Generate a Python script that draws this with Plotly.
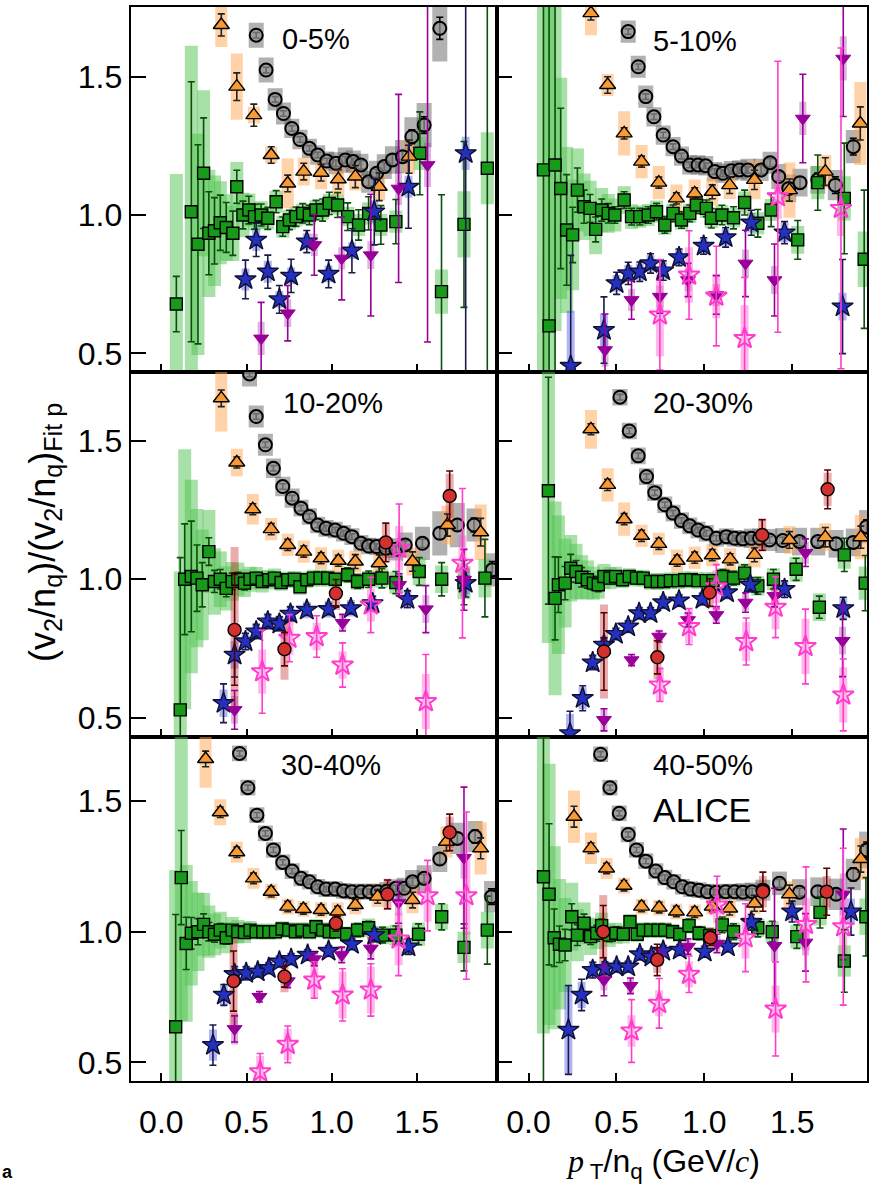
import plotly.graph_objects as go

# ---------------- data: tuples (x, y, stat_err, sys_err) ----------------
PION_0_5 = [(0.557,1.650,0.010,0.045),(0.615,1.524,0.010,0.045),(0.668,1.418,0.010,0.040),(0.717,1.367,0.010,0.040),
            (0.766,1.313,0.010,0.035),(0.814,1.273,0.010,0.035),(0.869,1.241,0.010,0.035),(0.918,1.217,0.010,0.035),
            (0.971,1.195,0.010,0.035),(1.025,1.187,0.012,0.040),(1.080,1.199,0.012,0.045),(1.127,1.193,0.012,0.040),
            (1.172,1.181,0.015,0.040),(1.217,1.120,0.015,0.040),(1.264,1.151,0.015,0.045),(1.309,1.175,0.015,0.045),
            (1.357,1.199,0.020,0.050),(1.416,1.211,0.020,0.060),(1.471,1.283,0.025,0.070),(1.543,1.325,0.030,0.080),
            (1.635,1.675,0.040,0.120)]
KAON_0_5 = [(0.352,1.687,0.040,0.080),(0.443,1.464,0.050,0.120),(0.543,1.361,0.040,0.030),(0.645,1.217,0.030,0.030),
            (0.742,1.114,0.030,0.090),(0.836,1.157,0.030,0.050),(0.938,1.153,0.030,0.060),(1.039,1.129,0.035,0.060),
            (1.139,1.139,0.040,0.050),(1.279,1.102,0.050,0.050),(1.455,1.211,0.060,0.060)]
PROTON_0_5 = [(0.088,0.678,0.100,0.470),(0.176,1.012,0.470,0.600),(0.215,0.894,0.360,0.400),(0.248,1.151,0.200,0.300),
              (0.279,0.934,0.150,0.230),(0.312,0.943,0.120,0.200),(0.346,0.972,0.100,0.150),(0.381,0.955,0.090,0.120),
              (0.420,0.934,0.080,0.100),(0.443,1.102,0.060,0.090),(0.479,1.000,0.050,0.080),(0.514,1.018,0.050,0.060),
              (0.547,0.994,0.045,0.050),(0.586,1.000,0.040,0.050),(0.625,0.988,0.040,0.040),(0.674,1.048,0.040,0.040),
              (0.713,0.958,0.035,0.040),(0.752,0.982,0.035,0.035),(0.791,0.994,0.035,0.035),(0.830,1.006,0.035,0.035),
              (0.869,1.000,0.035,0.035),(0.908,1.018,0.035,0.035),(0.947,1.018,0.040,0.035),(0.986,1.042,0.040,0.035),
              (1.035,1.036,0.045,0.035),(1.094,0.994,0.050,0.035),(1.158,0.964,0.055,0.040),(1.217,1.006,0.060,0.040),
              (1.289,0.964,0.070,0.040),(1.377,0.976,0.080,0.040),(1.518,1.223,0.150,0.060),(1.645,0.723,0.350,0.080),
              (1.777,0.966,0.300,0.120),(1.914,1.169,1.200,0.130)]
LAMBDA_0_5 = [(0.494,0.767,0.070,0.040),(0.557,0.910,0.060,0.040),(0.625,0.795,0.060,0.040),(0.693,0.695,0.050,0.030),
              (0.762,0.780,0.060,0.030),(0.854,0.904,0.040,0.030),(0.982,0.787,0.050,0.030),(1.119,0.871,0.080,0.030),
              (1.250,1.012,0.120,0.040),(1.451,1.102,0.150,0.040),(1.787,1.223,1.300,0.060)]
XI_0_5 = [(0.586,0.554,0.130,0.060),(0.742,0.645,0.100,0.050),(0.898,0.892,0.110,0.040),(1.059,0.843,0.150,0.040),
          (1.230,0.855,0.220,0.050),(1.393,1.096,0.340,0.060),(1.563,1.181,0.640,0.080)]
OMEGA_0_5 = []
PHI_0_5 = []

PION_5_10 = [(0.567,1.663,0.010,0.040),(0.624,1.536,0.010,0.040),(0.667,1.428,0.010,0.040),(0.713,1.355,0.010,0.035),
             (0.766,1.289,0.010,0.035),(0.822,1.247,0.010,0.035),(0.870,1.213,0.010,0.035),(0.917,1.181,0.010,0.035),
             (0.964,1.181,0.010,0.035),(1.008,1.178,0.010,0.035),(1.059,1.157,0.010,0.035),(1.106,1.151,0.012,0.035),
             (1.153,1.160,0.012,0.035),(1.200,1.163,0.012,0.035),(1.248,1.163,0.012,0.040),(1.323,1.163,0.015,0.040),
             (1.374,1.189,0.015,0.040),(1.423,1.139,0.015,0.045),(1.480,1.096,0.020,0.050),(1.544,1.117,0.020,0.050),
             (1.645,1.127,0.025,0.050),(1.745,1.108,0.030,0.055),(1.847,1.247,0.030,0.060)]
KAON_5_10 = [(0.355,1.730,0.025,0.080),(0.450,1.470,0.030,0.040),(0.544,1.295,0.020,0.080),(0.643,1.193,0.020,0.060),
             (0.741,1.117,0.020,0.060),(0.841,1.060,0.020,0.050),(0.945,1.078,0.020,0.050),(1.045,1.084,0.025,0.050),
             (1.144,1.108,0.030,0.050),(1.285,1.127,0.035,0.070),(1.484,1.090,0.040,0.100),(1.688,1.157,0.050,0.060),
             (1.887,1.331,0.060,0.150)]
PROTON_5_10 = [(0.085,1.163,1.300,1.300),(0.117,0.599,1.300,1.300),(0.151,1.181,1.300,0.600),(0.183,1.096,0.290,0.400),
               (0.217,0.946,0.200,0.300),(0.251,0.928,0.100,0.200),(0.278,1.090,0.080,0.150),(0.316,1.030,0.060,0.120),
               (0.350,1.024,0.050,0.100),(0.382,0.948,0.045,0.090),(0.416,1.018,0.040,0.080),(0.454,1.006,0.035,0.070),
               (0.491,1.000,0.030,0.060),(0.544,1.054,0.030,0.050),(0.586,0.994,0.030,0.045),(0.633,0.994,0.030,0.040),
               (0.681,1.000,0.030,0.040),(0.728,1.012,0.030,0.040),(0.775,0.964,0.030,0.035),(0.822,1.006,0.030,0.035),
               (0.870,0.982,0.030,0.035),(0.917,1.006,0.030,0.035),(0.955,1.036,0.030,0.035),(1.011,1.024,0.030,0.035),
               (1.040,0.988,0.035,0.035),(1.100,1.000,0.035,0.035),(1.166,0.990,0.040,0.035),(1.229,1.045,0.045,0.040),
               (1.304,0.970,0.050,0.040),(1.380,1.018,0.060,0.040),(1.531,0.910,0.070,0.050),(1.645,1.117,0.100,0.060),
               (1.796,1.060,0.200,0.080),(1.909,0.840,0.250,0.100)]
LAMBDA_5_10 = [(0.240,0.454,0.400,0.200),(0.429,0.584,0.120,0.060),(0.501,0.753,0.040,0.030),(0.567,0.789,0.040,0.030),
               (0.633,0.795,0.035,0.030),(0.694,0.825,0.035,0.030),(0.766,0.799,0.035,0.030),(0.856,0.847,0.030,0.030),
               (0.996,0.888,0.030,0.030),(1.121,0.919,0.035,0.030),(1.267,0.972,0.045,0.035),(1.456,0.936,0.040,0.035),
               (1.786,0.669,0.170,0.050)]
XI_5_10 = [(0.435,0.512,0.130,0.060),(0.586,0.693,0.070,0.040),(0.747,0.705,0.060,0.040),(0.907,0.765,0.060,0.040),
           (1.068,0.711,0.070,0.040),(1.234,0.825,0.120,0.050),(1.399,0.765,0.130,0.050),(1.560,1.349,0.160,0.060),
           (1.790,1.566,0.210,0.080)]
OMEGA_5_10 = [(0.747,0.639,0.200,0.150),(0.913,0.783,0.160,0.100),(1.068,0.707,0.180,0.080),(1.229,0.554,0.220,0.120),
              (1.418,1.066,0.490,0.080),(1.777,1.024,0.580,0.100)]
PHI_5_10 = []

PION_10_20 = [(0.518,1.742,0.010,0.045),(0.557,1.588,0.010,0.040),(0.611,1.486,0.010,0.040),(0.658,1.401,0.010,0.035),
              (0.713,1.335,0.010,0.035),(0.768,1.293,0.010,0.035),(0.820,1.257,0.010,0.030),(0.869,1.227,0.010,0.030),
              (0.918,1.196,0.010,0.030),(0.967,1.184,0.010,0.030),(1.021,1.178,0.010,0.030),(1.070,1.166,0.010,0.030),
              (1.119,1.154,0.010,0.030),(1.172,1.130,0.010,0.030),(1.217,1.120,0.010,0.030),(1.264,1.118,0.010,0.030),
              (1.318,1.112,0.012,0.035),(1.377,1.108,0.012,0.040),(1.432,1.124,0.015,0.045),(1.533,1.130,0.015,0.060),
              (1.635,1.166,0.020,0.080),(1.738,1.196,0.020,0.080),(1.836,1.196,0.025,0.060),(1.943,1.034,0.030,0.060)]
KAON_10_20 = [(0.352,1.654,0.030,0.120),(0.443,1.422,0.020,0.050),(0.537,1.253,0.020,0.055),(0.645,1.181,0.020,0.040),
              (0.742,1.124,0.020,0.040),(0.836,1.100,0.020,0.040),(0.938,1.076,0.020,0.040),(1.039,1.067,0.020,0.040),
              (1.139,1.064,0.025,0.040),(1.279,1.058,0.030,0.045),(1.475,1.064,0.035,0.050),(1.680,1.196,0.040,0.070),
              (1.875,1.170,0.050,0.100)]
PROTON_10_20 = [(0.111,0.528,0.550,0.500),(0.137,1.000,0.200,0.470),(0.176,1.010,0.200,0.350),(0.209,1.004,0.120,0.250),
                (0.240,0.980,0.080,0.200),(0.279,1.100,0.050,0.150),(0.312,0.992,0.040,0.120),(0.346,1.000,0.035,0.100),
                (0.381,0.967,0.030,0.080),(0.416,0.992,0.030,0.070),(0.449,1.000,0.025,0.060),(0.488,0.986,0.025,0.050),
                (0.521,1.000,0.020,0.045),(0.557,1.004,0.020,0.040),(0.592,0.992,0.020,0.040),(0.631,0.998,0.020,0.035),
                (0.664,1.004,0.020,0.035),(0.703,0.988,0.020,0.030),(0.742,0.998,0.020,0.030),(0.781,1.000,0.020,0.030),
                (0.814,0.973,0.020,0.030),(0.854,0.998,0.020,0.030),(0.893,1.004,0.020,0.030),(0.932,1.004,0.020,0.030),
                (0.977,1.004,0.020,0.030),(1.021,1.000,0.020,0.030),(1.094,1.016,0.025,0.030),(1.152,0.992,0.025,0.030),
                (1.217,1.000,0.030,0.030),(1.295,1.004,0.035,0.035),(1.377,0.988,0.040,0.040),(1.514,1.028,0.050,0.050),
                (1.646,1.000,0.060,0.050),(1.777,0.988,0.080,0.060),(1.900,1.004,0.140,0.070)]
LAMBDA_10_20 = [(0.365,0.552,0.070,0.050),(0.430,0.727,0.080,0.050),(0.494,0.775,0.030,0.030),(0.557,0.811,0.025,0.030),
                (0.625,0.847,0.025,0.030),(0.693,0.839,0.025,0.030),(0.758,0.875,0.025,0.030),(0.854,0.889,0.020,0.030),
                (0.982,0.892,0.020,0.030),(1.113,0.895,0.020,0.030),(1.240,0.913,0.025,0.030),(1.445,0.928,0.030,0.035),
                (1.787,0.986,0.050,0.040)]
XI_10_20 = [(0.430,0.528,0.070,0.050),(1.064,0.843,0.030,0.030),(1.396,0.980,0.040,0.040),(1.553,0.892,0.085,0.050),
            (1.777,0.998,0.110,0.060)]
OMEGA_10_20 = [(0.592,0.666,0.150,0.080),(0.752,0.787,0.085,0.060),(0.912,0.793,0.075,0.050),(1.064,0.690,0.080,0.050),
               (1.230,0.907,0.100,0.060),(1.396,1.112,0.160,0.080),(1.553,0.558,0.170,0.100),(1.768,1.058,0.270,0.100)]
PHI_10_20 = [(0.430,0.817,0.200,0.300),(0.723,0.747,0.060,0.110),(1.025,0.949,0.050,0.060),(1.318,1.133,0.070,0.070),
             (1.693,1.301,0.090,0.080)]

PION_20_30 = [(0.520,1.658,0.010,0.030),(0.573,1.536,0.010,0.030),(0.624,1.446,0.010,0.030),(0.671,1.371,0.010,0.030),
              (0.718,1.313,0.010,0.030),(0.775,1.269,0.010,0.030),(0.822,1.239,0.010,0.030),(0.870,1.212,0.010,0.030),
              (0.917,1.193,0.010,0.030),(0.964,1.178,0.010,0.030),(1.011,1.166,0.010,0.030),(1.068,1.148,0.010,0.030),
              (1.125,1.154,0.010,0.030),(1.172,1.148,0.010,0.030),(1.219,1.146,0.010,0.030),(1.267,1.148,0.010,0.035),
              (1.314,1.148,0.010,0.035),(1.371,1.142,0.012,0.040),(1.446,1.140,0.012,0.045),(1.541,1.136,0.015,0.050),
              (1.645,1.136,0.015,0.050),(1.749,1.128,0.020,0.050),(1.847,1.133,0.020,0.050),(1.923,1.190,0.025,0.060)]
KAON_20_30 = [(0.355,1.542,0.020,0.070),(0.450,1.341,0.020,0.060),(0.544,1.217,0.020,0.060),(0.643,1.157,0.020,0.040),
              (0.741,1.128,0.020,0.040),(0.845,1.067,0.020,0.040),(0.945,1.078,0.020,0.040),(1.045,1.087,0.020,0.040),
              (1.147,1.072,0.020,0.040),(1.285,1.088,0.025,0.045),(1.484,1.142,0.030,0.050),(1.688,1.152,0.035,0.050),
              (1.890,1.152,0.040,0.080)]
PROTON_20_30 = [(0.113,1.320,0.410,0.550),(0.151,0.931,0.150,0.350),(0.170,0.980,0.100,0.250),(0.208,0.986,0.060,0.160),
                (0.240,1.040,0.050,0.120),(0.270,1.028,0.040,0.100),(0.302,1.007,0.035,0.080),(0.335,0.998,0.030,0.070),
                (0.369,0.986,0.025,0.060),(0.397,0.980,0.025,0.050),(0.429,1.010,0.020,0.045),(0.463,1.004,0.020,0.040),
                (0.495,1.010,0.020,0.035),(0.535,0.998,0.020,0.030),(0.573,1.010,0.020,0.030),(0.614,1.004,0.020,0.030),
                (0.652,1.004,0.020,0.030),(0.694,0.992,0.020,0.030),(0.732,0.992,0.020,0.030),(0.769,0.992,0.020,0.030),
                (0.807,0.995,0.020,0.030),(0.851,0.995,0.020,0.030),(0.888,0.998,0.020,0.030),(0.926,0.998,0.020,0.030),
                (0.964,0.995,0.020,0.030),(1.011,0.995,0.020,0.030),(1.049,0.995,0.020,0.030),(1.106,1.010,0.025,0.030),
                (1.166,1.004,0.025,0.030),(1.229,1.022,0.030,0.035),(1.304,0.976,0.030,0.035),(1.393,1.000,0.035,0.040),
                (1.522,1.036,0.040,0.045),(1.654,0.899,0.040,0.050),(1.796,1.088,0.060,0.050),(1.915,0.986,0.100,0.060)]
LAMBDA_20_30 = [(0.236,0.443,0.080,0.070),(0.308,0.570,0.045,0.040),(0.365,0.699,0.025,0.030),(0.429,0.763,0.025,0.030),
                (0.497,0.802,0.020,0.025),(0.567,0.829,0.020,0.025),(0.629,0.877,0.020,0.025),(0.694,0.877,0.020,0.025),
                (0.766,0.916,0.020,0.025),(0.856,0.923,0.020,0.025),(0.989,0.928,0.020,0.025),(1.129,0.952,0.020,0.025),
                (1.261,0.980,0.025,0.030),(1.456,0.964,0.030,0.030),(1.790,0.895,0.040,0.040)]
XI_20_30 = [(0.429,0.492,0.040,0.040),(0.586,0.708,0.020,0.020),(0.743,0.793,0.020,0.025),(0.907,0.853,0.025,0.025),
            (1.068,0.871,0.030,0.030),(1.234,0.916,0.035,0.030),(1.399,0.940,0.040,0.035),(1.575,1.096,0.050,0.040),
            (1.786,0.778,0.130,0.050)]
OMEGA_20_30 = [(0.747,0.618,0.060,0.060),(0.913,0.829,0.065,0.060),(1.068,0.973,0.080,0.060),(1.238,0.775,0.085,0.070),
               (1.405,0.899,0.110,0.080),(1.575,0.757,0.135,0.100),(1.790,0.582,0.130,0.100)]
PHI_20_30 = [(0.429,0.739,0.140,0.170),(0.733,0.718,0.060,0.080),(1.030,0.952,0.050,0.050),(1.329,1.160,0.055,0.060),
             (1.701,1.325,0.070,0.060)]

PION_30_40 = [(0.459,1.682,0.010,0.030),(0.508,1.551,0.010,0.030),(0.561,1.446,0.010,0.030),(0.611,1.376,0.010,0.030),
              (0.658,1.313,0.010,0.030),(0.713,1.265,0.010,0.030),(0.768,1.232,0.010,0.030),(0.820,1.204,0.010,0.030),
              (0.869,1.191,0.010,0.030),(0.918,1.172,0.010,0.030),(0.967,1.163,0.010,0.030),(1.021,1.163,0.010,0.030),
              (1.070,1.156,0.010,0.030),(1.119,1.153,0.010,0.030),(1.172,1.153,0.010,0.030),(1.221,1.153,0.010,0.030),
              (1.270,1.153,0.010,0.030),(1.323,1.155,0.010,0.035),(1.377,1.166,0.012,0.035),(1.426,1.166,0.012,0.040),
              (1.475,1.191,0.015,0.045),(1.543,1.204,0.015,0.050),(1.635,1.278,0.020,0.050),(1.738,1.357,0.020,0.060),
              (1.842,1.364,0.025,0.060),(1.939,1.134,0.030,0.060)]
KAON_30_40 = [(0.260,1.661,0.030,0.110),(0.346,1.457,0.020,0.050),(0.443,1.304,0.020,0.040),(0.541,1.204,0.020,0.040),
              (0.645,1.153,0.020,0.030),(0.742,1.096,0.020,0.030),(0.834,1.087,0.020,0.030),(0.938,1.083,0.020,0.030),
              (1.035,1.077,0.020,0.035),(1.139,1.102,0.020,0.035),(1.270,1.134,0.025,0.040),(1.475,1.121,0.030,0.050),
              (1.674,1.344,0.035,0.060),(1.875,1.319,0.040,0.100)]
PROTON_30_40 = [(0.084,0.636,0.430,0.600),(0.117,1.207,0.180,0.550),(0.146,0.955,0.100,0.300),(0.176,0.994,0.060,0.200),
                (0.215,1.000,0.050,0.150),(0.248,1.028,0.040,0.120),(0.279,1.000,0.035,0.100),(0.312,0.990,0.030,0.080),
                (0.346,1.006,0.025,0.070),(0.381,0.977,0.025,0.060),(0.416,1.006,0.020,0.050),(0.449,1.000,0.020,0.045),
                (0.488,0.997,0.020,0.040),(0.521,1.006,0.020,0.035),(0.557,1.000,0.020,0.030),(0.596,1.000,0.020,0.030),
                (0.631,1.000,0.020,0.030),(0.670,1.000,0.020,0.030),(0.709,1.010,0.020,0.030),(0.748,1.006,0.020,0.030),
                (0.787,1.000,0.020,0.030),(0.826,1.006,0.020,0.030),(0.869,1.000,0.020,0.030),(0.908,1.019,0.020,0.030),
                (0.947,1.006,0.020,0.030),(0.986,1.000,0.020,0.030),(1.025,1.000,0.020,0.030),(1.088,0.990,0.025,0.030),
                (1.152,1.006,0.025,0.030),(1.217,1.015,0.025,0.035),(1.299,0.987,0.030,0.035),(1.377,0.987,0.035,0.040),
                (1.510,0.990,0.040,0.045),(1.646,1.057,0.050,0.050),(1.777,0.940,0.090,0.060),(1.914,1.006,0.130,0.070)]
LAMBDA_30_40 = [(0.303,0.566,0.077,0.060),(0.367,0.758,0.040,0.040),(0.430,0.837,0.030,0.030),(0.498,0.841,0.025,0.030),
                (0.566,0.847,0.020,0.025),(0.631,0.860,0.020,0.025),(0.693,0.885,0.020,0.025),(0.762,0.895,0.020,0.025),
                (0.859,0.911,0.020,0.025),(0.982,0.926,0.020,0.025),(1.119,0.952,0.020,0.025),(1.250,0.987,0.025,0.030),
                (1.451,0.943,0.030,0.030)]
XI_30_40 = [(0.430,0.628,0.050,0.060),(0.576,0.751,0.020,0.020),(0.742,0.811,0.025,0.025),(0.898,0.895,0.025,0.030),
            (1.059,0.911,0.030,0.030),(1.230,0.936,0.040,0.035),(1.393,1.112,0.080,0.050),(1.777,1.283,0.270,0.080)]
OMEGA_30_40 = [(0.580,0.464,0.070,0.060),(0.742,0.569,0.070,0.060),(0.898,0.815,0.070,0.070),(1.064,0.758,0.100,0.090),
               (1.230,0.777,0.100,0.090),(1.393,0.972,0.140,0.100),(1.563,1.138,0.135,0.100),(1.791,1.138,0.320,0.150)]
PHI_30_40 = [(0.424,0.811,0.115,0.170),(0.723,0.828,0.040,0.060),(1.025,1.032,0.030,0.040),(1.328,1.143,0.055,0.060),
             (1.693,1.380,0.070,0.060)]

PION_40_50 = [(0.410,1.679,0.010,0.030),(0.463,1.551,0.010,0.030),(0.516,1.453,0.010,0.030),(0.567,1.372,0.010,0.030),
              (0.614,1.313,0.010,0.030),(0.667,1.270,0.010,0.030),(0.724,1.232,0.010,0.030),(0.775,1.207,0.010,0.030),
              (0.826,1.191,0.010,0.030),(0.875,1.172,0.010,0.030),(0.922,1.163,0.010,0.030),(0.970,1.159,0.010,0.030),
              (1.017,1.153,0.010,0.030),(1.068,1.151,0.010,0.030),(1.121,1.153,0.010,0.030),(1.172,1.153,0.010,0.030),
              (1.219,1.151,0.010,0.035),(1.272,1.153,0.012,0.035),(1.333,1.159,0.012,0.040),(1.427,1.185,0.015,0.045),
              (1.541,1.151,0.015,0.050),(1.645,1.153,0.020,0.055),(1.749,1.143,0.020,0.060),(1.847,1.219,0.025,0.060),
              (1.923,1.313,0.030,0.070)]
KAON_40_50 = [(0.259,1.440,0.040,0.100),(0.355,1.319,0.020,0.060),(0.444,1.242,0.020,0.040),(0.543,1.176,0.020,0.030),
              (0.643,1.096,0.020,0.030),(0.743,1.092,0.020,0.030),(0.841,1.077,0.020,0.030),(0.945,1.074,0.020,0.030),
              (1.045,1.096,0.020,0.030),(1.144,1.089,0.025,0.035),(1.285,1.108,0.030,0.040),(1.484,1.143,0.035,0.050),
              (1.890,1.278,0.050,0.080)]
PROTON_40_50 = [(0.085,1.210,1.300,0.600),(0.117,1.143,0.270,0.500),(0.146,0.977,0.110,0.350),(0.176,0.952,0.070,0.250),
                (0.208,0.949,0.060,0.180),(0.246,1.057,0.050,0.130),(0.278,0.987,0.040,0.100),(0.316,1.032,0.035,0.080),
                (0.353,0.981,0.030,0.070),(0.388,0.994,0.030,0.060),(0.416,1.023,0.025,0.050),(0.459,0.987,0.025,0.045),
                (0.497,0.994,0.025,0.040),(0.539,0.990,0.020,0.035),(0.577,1.038,0.020,0.030),(0.618,0.990,0.020,0.030),
                (0.652,1.006,0.020,0.030),(0.694,1.006,0.020,0.030),(0.737,1.006,0.020,0.030),(0.775,1.006,0.020,0.030),
                (0.819,1.000,0.020,0.030),(0.860,0.990,0.020,0.030),(0.913,1.023,0.025,0.030),(0.970,0.994,0.025,0.030),
                (1.030,0.985,0.025,0.030),(1.102,1.026,0.030,0.030),(1.166,1.000,0.030,0.035),(1.304,1.015,0.035,0.035),
                (1.386,1.000,0.040,0.040),(1.526,0.981,0.045,0.045),(1.658,1.074,0.060,0.050),(1.796,0.888,0.120,0.060),
                (1.919,1.057,0.150,0.070)]
LAMBDA_40_50 = [(0.227,0.624,0.170,0.170),(0.302,0.758,0.060,0.050),(0.365,0.853,0.030,0.030),(0.435,0.860,0.025,0.025),
                (0.501,0.866,0.020,0.025),(0.567,0.866,0.020,0.025),(0.633,0.913,0.020,0.025),(0.699,0.904,0.020,0.025),
                (0.766,0.926,0.020,0.025),(0.860,0.930,0.020,0.025),(1.002,0.923,0.020,0.025),(1.134,0.943,0.020,0.025),
                (1.267,1.036,0.030,0.030),(1.499,1.077,0.040,0.035),(1.834,1.077,0.090,0.050)]
XI_40_50 = [(0.429,0.815,0.060,0.040),(0.580,0.793,0.030,0.030),(0.743,0.904,0.030,0.030),(0.907,0.943,0.030,0.030),
            (1.072,0.955,0.035,0.030),(1.399,0.946,0.220,0.060),(1.575,0.959,0.110,0.050),(1.790,1.143,0.250,0.080)]
OMEGA_40_50 = [(0.586,0.620,0.120,0.060),(0.743,0.726,0.095,0.050),(0.913,0.837,0.070,0.050),(1.072,1.102,0.110,0.070),
               (1.234,0.977,0.130,0.080),(1.405,0.704,0.180,0.090),(1.578,1.028,0.220,0.100),(1.790,1.019,0.300,0.120)]
PHI_40_50 = [(0.425,1.000,0.100,0.140),(0.732,0.892,0.060,0.050),(1.034,0.977,0.030,0.040),(1.333,1.153,0.075,0.060),
             (1.696,1.153,0.090,0.060)]

CENTRALITIES = ["0-5%", "5-10%", "10-20%", "20-30%", "30-40%", "40-50%"]
PANEL_DATA = [
    dict(pion=PION_0_5, proton=PROTON_0_5, kaon=KAON_0_5, lam=LAMBDA_0_5, xi=XI_0_5, omega=OMEGA_0_5, phi=PHI_0_5),
    dict(pion=PION_5_10, proton=PROTON_5_10, kaon=KAON_5_10, lam=LAMBDA_5_10, xi=XI_5_10, omega=OMEGA_5_10, phi=PHI_5_10),
    dict(pion=PION_10_20, proton=PROTON_10_20, kaon=KAON_10_20, lam=LAMBDA_10_20, xi=XI_10_20, omega=OMEGA_10_20, phi=PHI_10_20),
    dict(pion=PION_20_30, proton=PROTON_20_30, kaon=KAON_20_30, lam=LAMBDA_20_30, xi=XI_20_30, omega=OMEGA_20_30, phi=PHI_20_30),
    dict(pion=PION_30_40, proton=PROTON_30_40, kaon=KAON_30_40, lam=LAMBDA_30_40, xi=XI_30_40, omega=OMEGA_30_40, phi=PHI_30_40),
    dict(pion=PION_40_50, proton=PROTON_40_50, kaon=KAON_40_50, lam=LAMBDA_40_50, xi=XI_40_50, omega=OMEGA_40_50, phi=PHI_40_50),
]
X_TICKS = [0.0, 0.5, 1.0, 1.5]
X_TICKTEXT = ["0.0", "0.5", "1.0", "1.5"]
Y_TICKS = [0.5, 1.0, 1.5]
Y_TICKTEXT = ["0.5", "1.0", "1.5"]

# ---------------- styles ----------------
STYLE = {
    "proton": dict(symbol="square", size=12, fill="#17991a", line="black", lw=1.4,
                   stat="#0b4d0b", sys="rgba(80,195,80,0.5)", sysw=13),
    "pion": dict(symbol="circle", size=13, fill="rgba(150,150,150,0.7)", line="black", lw=2,
                 stat="black", sys="rgba(70,70,70,0.42)", sysw=15),
    "kaon": dict(symbol="triangle-up", size=14, fill="#f89a35", line="black", lw=1.4,
                 stat="#222222", sys="rgba(255,165,80,0.5)", sysw=12),
    "lam": dict(symbol="star", size=16, fill="#2430c0", line="#101030", lw=1.4,
                stat="#1a1a4d", sys="rgba(60,70,230,0.4)", sysw=8),
    "xi": dict(symbol="triangle-down", size=13, fill="#990099", line="#990099", lw=1,
               stat="#990099", sys="rgba(160,40,160,0.35)", sysw=7),
    "omega": dict(symbol="star-open", size=16, fill="#ff3ccc", line="#ff3ccc", lw=2,
                  stat="#ff3ccc", sys="rgba(255,80,200,0.4)", sysw=8),
    "phi": dict(symbol="circle", size=13, fill="#d33030", line="black", lw=1.4,
                stat="#5a0000", sys="rgba(200,50,50,0.4)", sysw=8),
}
ORDER = ["pion", "proton", "kaon", "lam", "xi", "omega", "phi"]

W, H = 869, 1192
X_DOM = [[131 / W, 498 / W], [498 / W, 1.0]]
Y_DOM = [[1 - 372 / H, 1 - 7 / H], [1 - 737 / H, 1 - 372 / H], [1 - 1081 / H, 1 - 737 / H]]
X_RANGE = [[-0.18, 1.970], [-0.18, 1.925]]
Y_RANGE = [[0.4324, 1.752], [0.4299, 1.749], [0.4286, 1.745]]

fig = go.Figure()
FONT = "Liberation Sans, Arial, sans-serif"

for i, pdata in enumerate(PANEL_DATA):
    row, col = divmod(i, 2)
    xa = "x" if i == 0 else f"x{i+1}"
    ya = "y" if i == 0 else f"y{i+1}"
    # systematic boxes first
    for sp in ORDER:
        pts = pdata[sp]
        if not pts:
            continue
        st = STYLE[sp]
        fig.add_trace(go.Scatter(
            x=[p[0] for p in pts], y=[p[1] for p in pts], mode="markers",
            marker=dict(size=1, color="rgba(0,0,0,0)"),
            error_y=dict(type="data", array=[p[3] for p in pts], symmetric=True,
                         thickness=st["sysw"], width=0, color=st["sys"]),
            xaxis=xa, yaxis=ya, showlegend=False, hoverinfo="skip"))
    # statistical bars + markers
    for sp in ORDER:
        pts = pdata[sp]
        if not pts:
            continue
        st = STYLE[sp]
        fig.add_trace(go.Scatter(
            x=[p[0] for p in pts], y=[p[1] for p in pts], mode="markers",
            marker=dict(symbol=st["symbol"], size=st["size"], color=st["fill"],
                        line=dict(color=st["line"], width=st["lw"])),
            error_y=dict(type="data", array=[p[2] for p in pts], symmetric=True,
                         thickness=1.6, width=3.5, color=st["stat"]),
            xaxis=xa, yaxis=ya, showlegend=False))

    axkey_x = "xaxis" if i == 0 else f"xaxis{i+1}"
    axkey_y = "yaxis" if i == 0 else f"yaxis{i+1}"
    fig.update_layout(**{
        axkey_x: dict(domain=X_DOM[col], range=X_RANGE[col], anchor=ya,
                      showline=True, linecolor="black", linewidth=2, mirror=True,
                      ticks="inside", ticklen=8, tickwidth=1.5, tickcolor="black",
                      tickvals=X_TICKS, ticktext=X_TICKTEXT, showticklabels=(row == 2),
                      ticklabelstandoff=12,
                      tickfont=dict(family=FONT, size=32, color="black"),
                      showgrid=False, zeroline=False),
        axkey_y: dict(domain=Y_DOM[row], range=Y_RANGE[row], anchor=xa,
                      showline=True, linecolor="black", linewidth=2, mirror=True,
                      ticks="inside", ticklen=15, tickwidth=1.5, tickcolor="black",
                      tickvals=Y_TICKS, ticktext=Y_TICKTEXT, showticklabels=(col == 0),
                      tickfont=dict(family=FONT, size=32, color="black"),
                      showgrid=False, zeroline=False),
    })

# panel labels
LABEL_POS = [(281, 39), (653, 41), (282, 403), (653, 403), (280, 765), (653, 765)]
for txt, (px, py) in zip(CENTRALITIES, LABEL_POS):
    fig.add_annotation(x=px / W, y=1 - py / H, xref="paper", yref="paper", text=txt,
                       showarrow=False, xanchor="left", yanchor="middle",
                       font=dict(family=FONT, size=29, color="black"))
fig.add_annotation(x=653 / W, y=1 - 810 / H, xref="paper", yref="paper", text="ALICE",
                   showarrow=False, xanchor="left", yanchor="middle",
                   font=dict(family=FONT, size=34, color="black"))

# axis titles
fig.add_annotation(x=45 / W, y=1 - 532 / H, xref="paper", yref="paper", textangle=-90,
                   text="(v<sub>2</sub>/n<sub>q</sub>)/(v<sub>2</sub>/n<sub>q</sub>)<sub>Fit p</sub>",
                   showarrow=False, xanchor="center", yanchor="middle",
                   font=dict(family=FONT, size=36, color="black"))
fig.add_annotation(x=665 / W, y=1 - 1163 / H, xref="paper", yref="paper",
                   text="<span style='font-family:Liberation Serif'><i>p</i></span><sub> T</sub>/n<sub>q</sub> (GeV/<span style='font-family:Liberation Serif'><i>c</i></span>)",
                   showarrow=False, xanchor="center", yanchor="middle",
                   font=dict(family=FONT, size=32, color="black"))
fig.add_annotation(x=0.0, y=1 - 1172 / H, xref="paper", yref="paper", text="<b>a</b>",
                   showarrow=False, xanchor="left", yanchor="middle",
                   font=dict(family=FONT, size=18, color="black"))

fig.update_layout(width=W, height=H, margin=dict(l=0, r=0, t=0, b=0),
                  paper_bgcolor="white", plot_bgcolor="white", showlegend=False)

fig.write_html("out.html")
